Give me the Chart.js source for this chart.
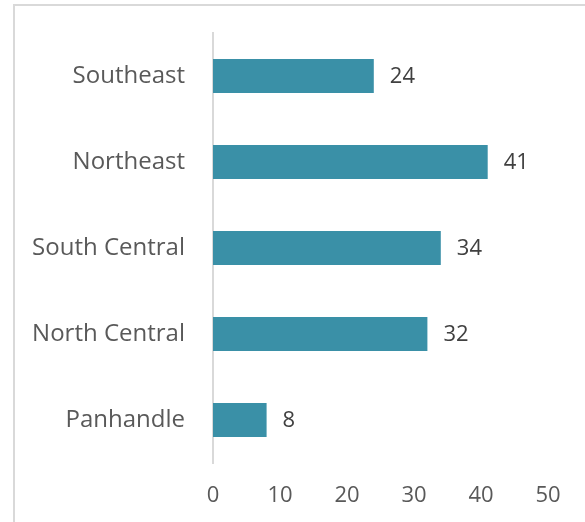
<!DOCTYPE html>
<html>
<head>
<meta charset="utf-8">
<script src="https://cdn.jsdelivr.net/npm/chart.js@4/dist/chart.umd.min.js"></script>
<style>
  html, body { margin: 0; padding: 0; background: #ffffff; }
  #wrap { position: relative; width: 585px; height: 522px; }
  canvas { display: block; }
</style>
</head>
<body>
<div id="wrap"><canvas id="chart" width="585" height="522"></canvas></div>
<script>
// Regions, listed top to bottom
const regions = ['Southeast', 'Northeast', 'South Central', 'North Central', 'Panhandle'];
const counts = [24, 41, 34, 32, 8];
const xTicks = [0, 10, 20, 30, 40, 50];

const FONT = "'Open Sans', 'Liberation Sans', sans-serif";

// Light frame around the chart
const framePlugin = {
  id: 'frame',
  beforeDraw(chart) {
    const ctx = chart.ctx;
    ctx.save();
    ctx.fillStyle = '#ffffff';
    ctx.fillRect(0, 0, chart.width, chart.height);
    ctx.strokeStyle = '#d9d9d9';
    ctx.lineWidth = 2;
    ctx.beginPath();
    ctx.moveTo(14, chart.height + 2);
    ctx.lineTo(14, 5);
    ctx.lineTo(chart.width + 2, 5);
    ctx.stroke();
    ctx.restore();
  }
};

// Value labels at the end of each bar
const valueLabels = {
  id: 'valueLabels',
  afterDatasetsDraw(chart) {
    const ctx = chart.ctx;
    const meta = chart.getDatasetMeta(0);
    const data = chart.data.datasets[0].data;
    ctx.save();
    ctx.font = '22px ' + FONT;
    ctx.fillStyle = '#404040';
    ctx.textAlign = 'left';
    ctx.textBaseline = 'middle';
    meta.data.forEach((bar, i) => {
      ctx.fillText(String(data[i]), bar.x + 16, bar.y + 1);
    });
    ctx.restore();
  }
};

new Chart(document.getElementById('chart'), {
  type: 'bar',
  data: {
    labels: regions,
    datasets: [{
      data: counts,
      backgroundColor: '#3a90a7',
      borderWidth: 0,
      categoryPercentage: 1,
      barPercentage: 0.395
    }]
  },
  options: {
    indexAxis: 'y',
    responsive: false,
    animation: false,
    devicePixelRatio: 1,
    layout: { padding: { left: 0, right: 37, top: 33, bottom: 0 } },
    plugins: {
      legend: { display: false },
      tooltip: { enabled: false },
      title: { display: false }
    },
    scales: {
      x: {
        min: 0,
        max: 50,
        afterBuildTicks(scale) {
          scale.ticks = xTicks.map(v => ({ value: v }));
        },
        afterFit(scale) { scale.height = 59; },
        grid: { display: false, drawTicks: false },
        border: { display: false },
        ticks: {
          padding: 20,
          color: '#595959',
          font: { family: FONT, size: 22 }
        }
      },
      y: {
        afterFit(scale) {
          scale.width = 213;
          scale.paddingTop = 0;
          scale.paddingBottom = 0;
        },
        grid: { display: false, drawTicks: false },
        border: { display: true, color: '#d9d9d9', width: 2 },
        ticks: {
          padding: 28,
          color: '#595959',
          font: { family: FONT, size: 24 }
        }
      }
    }
  },
  plugins: [framePlugin, valueLabels]
});
</script>
</body>
</html>
